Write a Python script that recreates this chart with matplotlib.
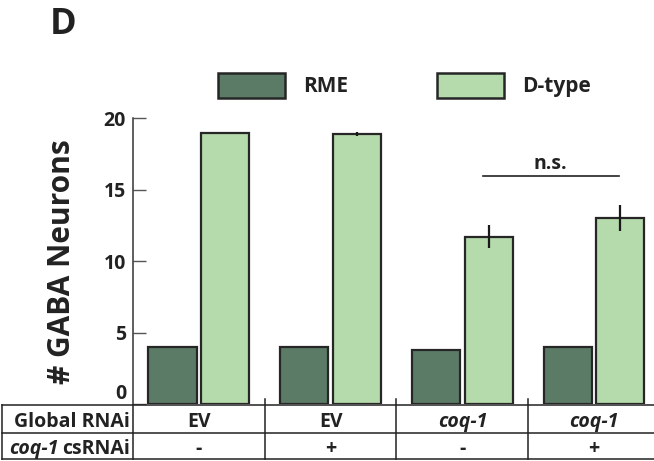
import matplotlib
matplotlib.use("Agg")
import matplotlib.pyplot as plt
import matplotlib.transforms as mtransforms
from matplotlib.lines import Line2D
from matplotlib.patches import Patch
import numpy as np

plt.rcParams['font.family'] = ['Open Sans', 'DejaVu Sans']
plt.rcParams['font.weight'] = 'bold'

# Data
global_rnai = ["EV", "EV", "coq-1", "coq-1"]
global_italic = [False, False, True, True]
cs_rnai = ["-", "+", "-", "+"]
rme = [4.0, 4.0, 3.8, 4.0]
dtype = [19.0, 18.9, 11.7, 13.0]
dtype_err = [0.0, 0.15, 0.8, 0.9]
yticks = [0, 5, 10, 15, 20]

RME_COLOR = '#5b7b67'
D_COLOR = '#b5daab'
EDGE = '#262626'
TXT = '#222222'

W, H = 654, 461
fig = plt.figure(figsize=(W / 100, H / 100), dpi=100)
ax = fig.add_axes([133 / W, 1 - 404 / H, 521 / W, (404 - 118.3) / H])

x = np.arange(len(rme))
bw = 0.365
off = 0.2
ax.bar(x - off, rme, bw, color=RME_COLOR, edgecolor=EDGE, linewidth=1.6, zorder=2)
ax.bar(x + off, dtype, bw, color=D_COLOR, edgecolor=EDGE, linewidth=1.6, zorder=2)
ax.errorbar(x + off, dtype, yerr=dtype_err, fmt='none', ecolor='#1a1a1a',
            elinewidth=1.6, capsize=0, zorder=3)

ax.set_xlim(-0.5, 3.455)
ax.set_ylim(0, 20)
ax.set_yticks(yticks)
ax.set_xticks([])
for s in ('top', 'right', 'bottom'):
    ax.spines[s].set_visible(False)
ax.spines['left'].set_linewidth(1.1)
ax.spines['left'].set_color('#333333')
ax.tick_params(axis='y', direction='in', length=9, width=1.0, color='#555555',
               labelsize=14, labelcolor=TXT, pad=5)
for lab in ax.get_yticklabels():
    lab.set_fontweight('bold')
# lift the zero label so it sits above the condition table
ax.get_yticklabels()[0].set_verticalalignment('bottom')

# significance bracket
ax.plot([2.154, 3.189], [15.94, 15.94], color='#222222', lw=1.2, zorder=3)
ax.text(2.67, 16.43, 'n.s.', ha='center', va='baseline', fontsize=14,
        fontweight='bold', color=TXT)

fig.text(62 / W, 1 - 261.5 / H, '# GABA Neurons', rotation=90, ha='center', va='center',
         fontsize=21.5, fontweight='bold', color=TXT)

fig.text(50 / W, 1 - 7 / H, 'D', fontsize=26, fontweight='bold', ha='left', va='top',
         color=TXT)

# legend
handles = [Patch(facecolor=RME_COLOR, edgecolor=EDGE, linewidth=1.8),
           Patch(facecolor=D_COLOR, edgecolor=EDGE, linewidth=1.8)]
leg = fig.legend(handles, ['RME', 'D-type'], ncol=2, loc='upper left',
                 bbox_to_anchor=(218 / W, 1 - 73 / H), frameon=False, fontsize=15,
                 handlelength=3.22, handleheight=1.44, handletextpad=0.87,
                 columnspacing=4.28, borderpad=0, borderaxespad=0)
for t in leg.get_texts():
    t.set_color(TXT)

# condition table below the axes
yt_top, yt_mid, yt_bot, yt_tick = 1 - 405 / H, 1 - 433 / H, 1 - 459 / H, 1 - 399 / H
line_kw = dict(color='#222222', lw=1.1)
for yy in (yt_top, yt_mid, yt_bot):
    fig.add_artist(Line2D([2 / W, 1], [yy, yy], transform=fig.transFigure, **line_kw))
fig.add_artist(Line2D([2 / W, 2 / W], [yt_bot, yt_top], transform=fig.transFigure, **line_kw))
blend = mtransforms.blended_transform_factory(ax.transData, fig.transFigure)
for xd in [-0.5, 0.5, 1.5, 2.5]:
    top = yt_top if xd == -0.5 else yt_tick
    fig.add_artist(Line2D([xd, xd], [yt_bot, top], transform=blend, **line_kw))

row1 = (yt_top + yt_mid) / 2
row2 = (yt_mid + yt_bot) / 2
tfs = 14
fig.text(130 / W, row1, 'Global RNAi', ha='right', va='center_baseline', fontsize=tfs,
         fontweight='bold', color=TXT)
t_cs = fig.text(130 / W, row2, 'csRNAi', ha='right', va='center_baseline', fontsize=tfs,
                fontweight='bold', color=TXT)
fig.canvas.draw()
bb = t_cs.get_window_extent(fig.canvas.get_renderer())
fig.text((bb.x0 - 4) / W, row2, 'coq-1', ha='right', va='center_baseline', fontsize=tfs,
         fontweight='bold', style='italic', color=TXT)
for i in range(len(global_rnai)):
    fig.text(x[i], row1, global_rnai[i], transform=blend, ha='center',
             va='center_baseline', fontsize=tfs, fontweight='bold', color=TXT,
             style='italic' if global_italic[i] else 'normal')
    fig.text(x[i], row2, cs_rnai[i], transform=blend, ha='center', va='center_baseline',
             fontsize=tfs, fontweight='bold', color=TXT)

fig.savefig('out.png', dpi=100)
